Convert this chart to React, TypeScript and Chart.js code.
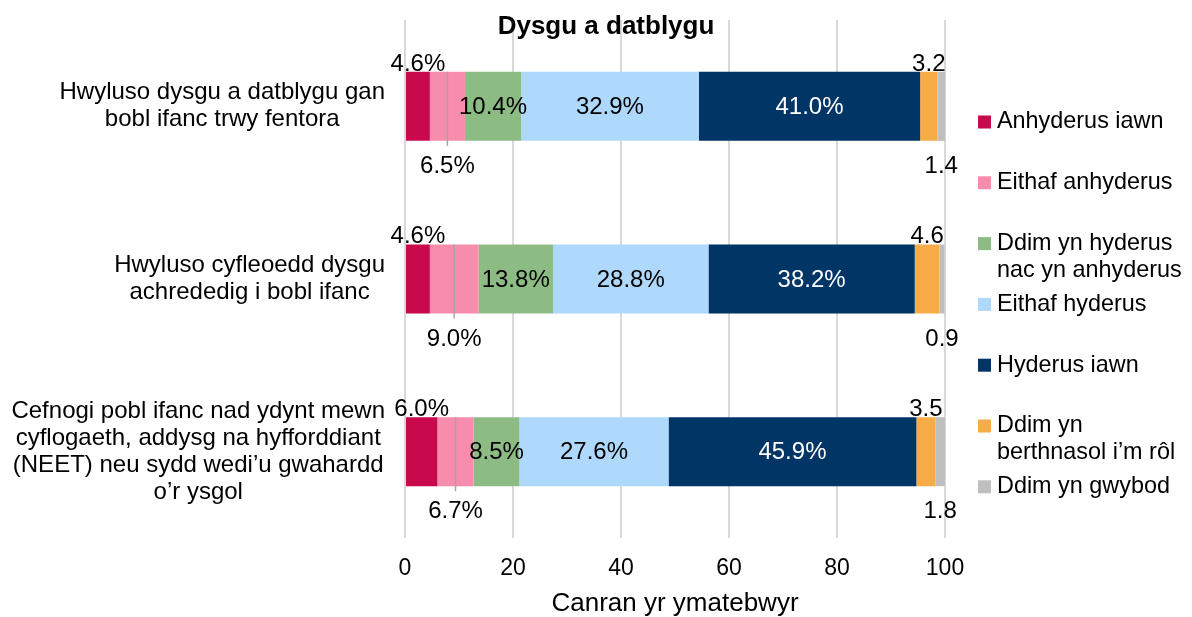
import { useEffect, useRef } from "react";
import { Chart, registerables } from "chart.js";

Chart.register(...registerables);

// ---------- data ----------
const categories: string[][] = [
  ["Hwyluso dysgu a datblygu gan", "bobl ifanc trwy fentora"],
  ["Hwyluso cyfleoedd dysgu", "achrededig i bobl ifanc"],
  [
    "Cefnogi pobl ifanc nad ydynt mewn",
    "cyflogaeth, addysg na hyfforddiant",
    "(NEET) neu sydd wedi’u gwahardd",
    "o’r ysgol",
  ],
];

const seriesNames: string[][] = [
  ["Anhyderus iawn"],
  ["Eithaf anhyderus"],
  ["Ddim yn hyderus", "nac yn anhyderus"],
  ["Eithaf hyderus"],
  ["Hyderus iawn"],
  ["Ddim yn", "berthnasol i’m rôl"],
  ["Ddim yn gwybod"],
];

const anhyderusIawn = [4.6, 4.6, 6.0];
const eithafAnhyderus = [6.5, 9.0, 6.7];
const ddimYnHyderus = [10.4, 13.8, 8.5];
const eithafHyderus = [32.9, 28.8, 27.6];
const hyderusIawn = [41.0, 38.2, 45.9];
const ddimYnBerthnasol = [3.2, 4.6, 3.5];
const ddimYnGwybod = [1.4, 0.9, 1.8];

const xTickValues = [0, 20, 40, 60, 80, 100];
const chartTitle = "Dysgu a datblygu";
const xAxisTitle = "Canran yr ymatebwyr";

// ---------- styling ----------
const FONT = "'Liberation Sans', Arial, sans-serif";
const colors = ["#C8094B", "#F78CAC", "#8CBC84", "#AED8FC", "#003566", "#F8AC48", "#BFBFBF"];
const placements = ["above", "below", "inside", "inside", "inside", "above", "below"];
const suffixes = ["%", "%", "%", "%", "%", "", ""];
const leader = [false, true, false, false, false, false, false];
const labelColors = ["#000", "#000", "#000", "#000", "#fff", "#000", "#000"];

const seriesValues = [
  anhyderusIawn,
  eithafAnhyderus,
  ddimYnHyderus,
  eithafHyderus,
  hyderusIawn,
  ddimYnBerthnasol,
  ddimYnGwybod,
];

const customPlugin = {
  id: "custom",
  afterDatasetsDraw(chart: any) {
    const ctx = chart.ctx;
    ctx.save();
    ctx.font = `24px ${FONT}`;
    ctx.textAlign = "center";
    chart.data.datasets.forEach((ds: any, i: number) => {
      const meta = chart.getDatasetMeta(i);
      meta.data.forEach((el: any, j: number) => {
        const p = el.getProps(["x", "y", "base", "height"], true);
        const cx = (p.x + p.base) / 2;
        const top = p.y - p.height / 2;
        const bottom = p.y + p.height / 2;
        const txt = ds.data[j].toFixed(1) + suffixes[i];
        if (leader[i]) {
          ctx.strokeStyle = "#A6A6A6";
          ctx.lineWidth = 1.5;
          ctx.beginPath();
          ctx.moveTo(cx, top);
          ctx.lineTo(cx, bottom + 5);
          ctx.stroke();
        }
        ctx.fillStyle = labelColors[i];
        if (placements[i] === "inside") {
          ctx.textBaseline = "middle";
          ctx.fillText(txt, cx, p.y + 1);
        } else if (placements[i] === "above") {
          ctx.textBaseline = "alphabetic";
          ctx.fillText(txt, cx, top - 1);
        } else {
          ctx.textBaseline = "alphabetic";
          ctx.fillText(txt, cx, bottom + 32);
        }
      });
    });
    ctx.restore();
  },
  afterDraw(chart: any) {
    const ctx = chart.ctx;
    const yScale = chart.scales.y;
    ctx.save();
    // title
    ctx.fillStyle = "#000";
    ctx.font = `bold 26px ${FONT}`;
    ctx.textAlign = "center";
    ctx.textBaseline = "alphabetic";
    ctx.fillText(chartTitle, 606, 34);

    // category labels: block right-aligned, lines centred within block
    ctx.font = `24px ${FONT}`;
    ctx.textBaseline = "middle";
    const rightEdge = chart.chartArea.left - 20;
    const lh = 27;
    categories.forEach((lines, idx) => {
      const yc = yScale.getPixelForValue(idx);
      const w = Math.max(...lines.map((l) => ctx.measureText(l).width));
      const xc = rightEdge - w / 2;
      lines.forEach((l, k) => {
        ctx.fillText(l, xc, yc + (k - (lines.length - 1) / 2) * lh);
      });
    });

    // legend
    ctx.font = `23.4px ${FONT}`;
    ctx.textAlign = "left";
    const lx = 978;
    const ly0 = 122;
    const step = 60.8;
    seriesNames.forEach((lines, i) => {
      const y = ly0 + i * step;
      ctx.fillStyle = colors[i];
      ctx.fillRect(lx, y - 6.5, 13, 13);
      ctx.fillStyle = "#000";
      lines.forEach((l, k) => {
        ctx.fillText(l, lx + 19, y + k * 26.5);
      });
    });
    ctx.restore();
  },
};

export default function App() {
  const ref = useRef<HTMLCanvasElement | null>(null);
  useEffect(() => {
    document.body.style.margin = "0";
    if (!ref.current) return;
    const chart = new Chart(ref.current, {
      type: "bar",
      data: {
        labels: categories.map((c) => c.join(" ")),
        datasets: seriesValues.map((vals, i) => ({
          label: seriesNames[i].join(" "),
          data: vals,
          backgroundColor: colors[i],
          borderWidth: 0,
          categoryPercentage: 1,
          barPercentage: 0.4,
        })),
      },
      options: {
        indexAxis: "y",
        responsive: false,
        animation: false,
        devicePixelRatio: 1,
        layout: { padding: { top: 20, right: 247, left: 0, bottom: 0 } },
        plugins: {
          legend: { display: false },
          title: { display: false },
          tooltip: { enabled: false },
        },
        scales: {
          x: {
            stacked: true,
            min: 0,
            max: 100,
            afterBuildTicks: (scale: any) => {
              scale.ticks = xTickValues.map((v) => ({ value: v }));
            },
            afterFit: (scale: any) => {
              scale.height = 79;
            },
            grid: { color: "#D9D9D9", lineWidth: 2, drawTicks: false },
            border: { display: false },
            ticks: {
              font: { family: FONT, size: 23 },
              color: "#000",
              padding: 17,
            },
            title: {
              display: true,
              text: xAxisTitle,
              font: { family: FONT, size: 26, lineHeight: 1 },
              color: "#000",
              padding: { top: 0, bottom: 0 },
            },
          },
          y: {
            stacked: true,
            afterFit: (scale: any) => {
              scale.width = 405;
            },
            grid: { display: false },
            border: { display: false },
            ticks: { display: false },
          },
        },
      },
      plugins: [customPlugin],
    } as any);
    return () => chart.destroy();
  }, []);
  return (
    <div style={{ width: 1192, height: 617 }}>
      <canvas ref={ref} width={1192} height={617} />
    </div>
  );
}
